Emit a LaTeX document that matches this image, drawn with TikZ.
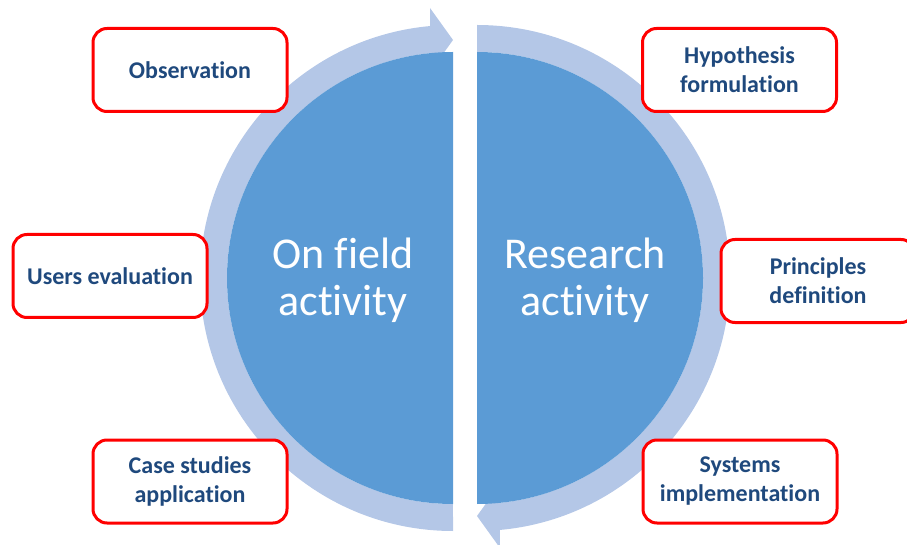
\documentclass[tikz,border=0pt]{standalone}
\usepackage{fontspec}
\setmainfont{Carlito}[Ligatures={NoCommon,NoRequired,NoContextual}]
\usepackage{tikz}

\definecolor{diskblue}{RGB}{91,155,213}
\definecolor{ringblue}{RGB}{180,199,231}
\definecolor{textblue}{RGB}{31,73,125}
\definecolor{boxred}{RGB}{255,0,0}

\begin{document}
\begin{tikzpicture}[x=1pt,y=1pt,
	stagebox/.style={draw=boxred, line width=3pt, rounded corners=14pt, fill=white,
		minimum width=194pt, minimum height=83pt, align=center, text=textblue,
		font=\bfseries\fontsize{24}{29}\selectfont},
	halflabel/.style={align=center, text=white, font=\fontsize{44}{47}\selectfont}]

	\useasboundingbox (0,0) rectangle (907,544);
	\clip (0,0) rectangle (907,544);

	\coordinate (l) at (453,266);
	\coordinate (r) at (477,266);

	% ring arrows
	\fill[ringblue] (l) ++(270:253) arc[start angle=270, end angle=95.2, radius=253]
		-- (430,536) -- (453,504) -- (430,472) -- (430,490.8)
		arc[start angle=95.84, end angle=270, radius=226] -- cycle;
	\fill[ringblue] (r) ++(90:253) arc[start angle=90, end angle=-84.8, radius=253]
		-- (500,-4) -- (477,28) -- (500,60) -- (500,41.2)
		arc[start angle=-84.16, end angle=90, radius=226] -- cycle;

	% half disks
	\fill[diskblue] (l) ++(90:226) arc[start angle=90, end angle=270, radius=226] -- cycle;
	\fill[diskblue] (r) ++(-90:226) arc[start angle=-90, end angle=90, radius=226] -- cycle;

	\node[halflabel] (field) at (343,264) {On field\\activity};
	\node[halflabel] (research) at (585,264) {Research\\activity};

	% stages
	\node[stagebox] (observation) at (190,474) {Observation};
	\node[stagebox] (hypothesis) at (739.5,474) {Hypothesis\\formulation};
	\node[stagebox] (users) at (110,268) {Users evaluation};
	\node[stagebox] (principles) at (818,263) {Principles\\definition};
	\node[stagebox] (cases) at (190,62.5) {Case studies\\application};
	\node[stagebox] (systems) at (740,62.5) {Systems\\implementation};

\end{tikzpicture}
\end{document}
